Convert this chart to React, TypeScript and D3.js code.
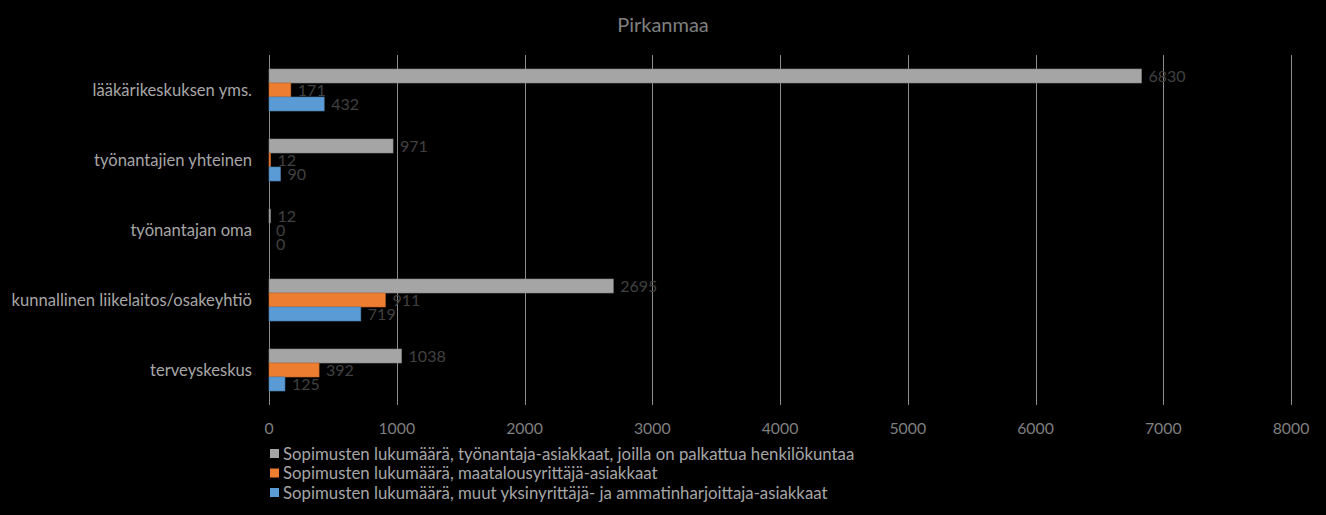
import { useEffect, useRef } from 'react';
import * as d3 from 'd3';

// Reference chart data (Pirkanmaa)
const categories = [
  'lääkärikeskuksen yms.',
  'työnantajien yhteinen',
  'työnantajan oma',
  'kunnallinen liikelaitos/osakeyhtiö',
  'terveyskeskus',
];
const seriesNames = [
  'Sopimusten lukumäärä, työnantaja-asiakkaat, joilla on palkattua henkilökuntaa',
  'Sopimusten lukumäärä, maatalousyrittäjä-asiakkaat',
  'Sopimusten lukumäärä, muut yksinyrittäjä- ja ammatinharjoittaja-asiakkaat',
];
const employerValues = [6830, 971, 12, 2695, 1038];
const farmerValues = [171, 12, 0, 911, 392];
const soloValues = [432, 90, 0, 719, 125];
const seriesColors = ['#a5a5a5', '#ed7d31', '#5b9bd5'];
const xTicks = [0, 1000, 2000, 3000, 4000, 5000, 6000, 7000, 8000];

const W = 1326;
const H = 515;
const FONT = 'Lato, "Open Sans", sans-serif';

export default function App() {
  const svgRef = useRef<SVGSVGElement>(null);

  useEffect(() => {
    if (!svgRef.current) return;
    const svg = d3.select(svgRef.current);
    svg.selectAll('*').remove();

    const margin = { top: 55, right: 35, bottom: 110, left: 269 };
    const w = W - margin.left - margin.right;
    const h = H - margin.top - margin.bottom;

    const series = [employerValues, farmerValues, soloValues];

    const x = d3.scaleLinear().domain([0, 8000]).range([0, w]);
    const y = d3.scaleBand<string>().domain(categories).range([0, h])
      .paddingInner(0.4).paddingOuter(0.2);
    const ySub = d3.scaleBand<number>().domain([0, 1, 2]).range([0, y.bandwidth()]);

    svg.append('rect').attr('width', W).attr('height', H).attr('fill', '#000');

    svg.append('text')
      .attr('x', W / 2)
      .attr('y', 32)
      .attr('text-anchor', 'middle')
      .attr('font-family', FONT)
      .attr('font-size', '20px')
      .attr('fill', '#7f7f7f')
      .text('Pirkanmaa');

    const g = svg.append('g').attr('transform', `translate(${margin.left},${margin.top})`);

    // Gridlines (also the zero axis line)
    g.selectAll('line.grid')
      .data(xTicks)
      .join('line')
      .attr('class', 'grid')
      .attr('x1', (d) => Math.round(x(d)) + 0.5)
      .attr('x2', (d) => Math.round(x(d)) + 0.5)
      .attr('y1', 0)
      .attr('y2', h)
      .attr('stroke', '#8c8c8c')
      .attr('stroke-width', 1);

    // X tick labels
    g.selectAll('text.tick')
      .data(xTicks)
      .join('text')
      .attr('class', 'tick')
      .attr('x', (d) => x(d))
      .attr('y', h + 29)
      .attr('text-anchor', 'middle')
      .attr('font-family', FONT)
      .attr('font-size', '15.8px')
      .attr('fill', '#7f7f7f')
      .text((d) => String(d));

    // Category labels
    g.selectAll('text.cat')
      .data(categories)
      .join('text')
      .attr('class', 'cat')
      .attr('x', -17)
      .attr('y', (d) => (y(d) || 0) + y.bandwidth() / 2)
      .attr('dy', '0.35em')
      .attr('text-anchor', 'end')
      .attr('font-family', FONT)
      .attr('font-size', '16.6px')
      .attr('fill', '#a6a6a6')
      .text((d) => d);

    // Bars + data labels
    series.forEach((vals, si) => {
      const sg = g.append('g');
      sg.selectAll('rect')
        .data(vals)
        .join('rect')
        .attr('x', 0)
        .attr('y', (_, i) => (y(categories[i]) || 0) + (ySub(si) || 0))
        .attr('width', (d) => x(d))
        .attr('height', ySub.bandwidth())
        .attr('fill', seriesColors[si])
        .attr('stroke', d3.color(seriesColors[si])!.darker(0.6).formatHex())
        .attr('stroke-width', 0.6);

      sg.selectAll('text')
        .data(vals)
        .join('text')
        .attr('x', (d) => x(d) + 7)
        .attr('y', (_, i) => (y(categories[i]) || 0) + (ySub(si) || 0) + ySub.bandwidth() / 2)
        .attr('dy', '0.38em')
        .attr('font-family', FONT)
        .attr('font-size', '16px')
        .attr('fill', '#404040')
        .text((d) => String(d));
    });

    // Legend
    const lg = svg.append('g').attr('transform', `translate(270, 449)`);
    seriesNames.forEach((name, i) => {
      const row = lg.append('g').attr('transform', `translate(0, ${i * 19.5})`);
      row.append('rect')
        .attr('x', 0)
        .attr('y', 0)
        .attr('width', 9)
        .attr('height', 9)
        .attr('fill', seriesColors[i]);
      row.append('text')
        .attr('x', 13)
        .attr('y', 4.5)
        .attr('dy', '0.36em')
        .attr('font-family', FONT)
        .attr('font-size', '16.8px')
        .attr('fill', '#a6a6a6')
        .text(name);
    });
  }, []);

  return (
    <div style={{ position: 'fixed', left: 0, top: 0, width: W, height: H, background: '#000' }}>
      <svg ref={svgRef} width={W} height={H} style={{ display: 'block' }} />
    </div>
  );
}
